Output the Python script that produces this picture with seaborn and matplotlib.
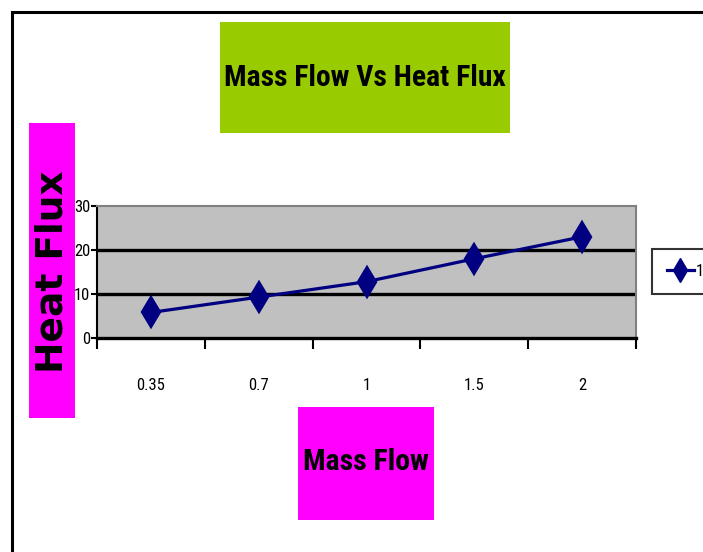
import matplotlib
matplotlib.use("Agg")
import matplotlib.pyplot as plt
import matplotlib.patches as mpatches
from matplotlib import font_manager
from matplotlib.lines import Line2D
import seaborn as sns

mass_flow = ["0.35", "0.7", "1", "1.5", "2"]
heat_flux = [5.8, 9.3, 12.8, 18.0, 23.0]
y_ticks = [0, 10, 20, 30]
series_label = "1"

installed = {f.name for f in font_manager.fontManager.ttflist}
narrow = None
for cand in ['Liberation Sans Narrow', 'Roboto Condensed', 'Open Sans Condensed',
             'Noto Sans Condensed', 'Arial Narrow', 'Roboto', 'Liberation Sans']:
    if cand in installed:
        narrow = cand
        break
fam = [narrow, 'DejaVu Sans'] if narrow else ['DejaVu Sans']
plt.rcParams['font.family'] = fam

W, H = 703, 552
fig = plt.figure(figsize=(W / 100, H / 100), dpi=100)
fig.patch.set_facecolor('white')

def fx(px):
    return px / W

def fy(py):
    return 1 - py / H

# outer chart frame (left and top edges visible)
fig.patches.append(mpatches.Rectangle((fx(12), fy(600)), 2.0, fy(12) - fy(600),
                                      transform=fig.transFigure, fill=False,
                                      edgecolor='black', linewidth=2.2, zorder=0))

# plot area
ax = fig.add_axes([fx(97), fy(338), fx(636) - fx(97), fy(206) - fy(338)])
ax.set_facecolor('#C0C0C0')

sns.pointplot(x=mass_flow, y=heat_flux, color='#000080', markers='d', linestyles='-',
              markersize=15, linewidth=2.3, errorbar=None, ax=ax, label=series_label)
if ax.get_legend() is not None:
    ax.get_legend().remove()

ax.set_ylim(0, 30)
ax.set_xlim(-0.5, len(mass_flow) - 0.5)
ax.set_yticks(y_ticks)
ax.set_yticklabels([str(t) for t in y_ticks])
for t in [10, 20]:
    ax.axhline(t, color='black', linewidth=2.4, zorder=1)
ax.set_xlabel('')
ax.set_ylabel('')

# category boundary ticks on x
ax.set_xticks([i - 0.5 for i in range(len(mass_flow) + 1)], minor=False)
ax.set_xticklabels([''] * (len(mass_flow) + 1))
ax.set_xticks(list(range(len(mass_flow))), minor=True)
ax.set_xticklabels(mass_flow, minor=True)
ax.tick_params(axis='x', which='major', direction='out', length=8, width=1.5, color='black')
ax.tick_params(axis='x', which='minor', length=0, pad=29, labelsize=12)
ax.tick_params(axis='y', direction='out', length=4, width=1.5, color='black', pad=1, labelsize=12)

for s in ['top', 'right']:
    ax.spines[s].set_color('#808080')
    ax.spines[s].set_linewidth(1.5)
ax.spines['bottom'].set_color('black')
ax.spines['bottom'].set_linewidth(2.4)
ax.spines['left'].set_color('black')
ax.spines['left'].set_linewidth(1.5)
ax.grid(False)

# legend
leg_handle = Line2D([], [], color='#000080', marker='d', linewidth=2.3, markersize=12)
leg = fig.legend([leg_handle], [series_label], loc='center left',
                 bbox_to_anchor=(fx(652), fy(271)), frameon=True, fancybox=False,
                 edgecolor='black', fontsize=12, handlelength=1.6, borderpad=0.9,
                 handletextpad=0.15, borderaxespad=0)
leg.get_frame().set_linewidth(1.5)

# title box
fig.patches.append(mpatches.Rectangle((fx(220), fy(133)), fx(510) - fx(220), fy(22) - fy(133),
                                      transform=fig.transFigure, facecolor='#99CC00',
                                      edgecolor='none', zorder=1))
title = fig.text(fx(365), fy(78), 'Mass Flow Vs Heat Flux', ha='center', va='center',
                 fontsize=23, fontweight='bold', color='black', zorder=2)

# y label box
fig.patches.append(mpatches.Rectangle((fx(29), fy(418)), fx(75) - fx(29), fy(123) - fy(418),
                                      transform=fig.transFigure, facecolor='#FF00FF',
                                      edgecolor='none', zorder=1))
ylab = fig.text(fx(53), fy(272), 'Heat Flux', ha='center', va='center', rotation=90,
                fontsize=27, fontweight='bold', color='black', family=['DejaVu Sans'], zorder=2)

# x label box
fig.patches.append(mpatches.Rectangle((fx(298), fy(520)), fx(434) - fx(298), fy(407) - fy(520),
                                      transform=fig.transFigure, facecolor='#FF00FF',
                                      edgecolor='none', zorder=1))
xlab = fig.text(fx(366), fy(462), 'Mass Flow', ha='center', va='center',
                fontsize=23, fontweight='bold', color='black', zorder=2)

# fit text widths to the reference boxes
fig.canvas.draw()
r = fig.canvas.get_renderer()
for t, target in [(title, 282), (xlab, 126)]:
    w = t.get_window_extent(r).width
    t.set_fontsize(t.get_fontsize() * target / w)

fig.savefig('out.png', dpi=100)
